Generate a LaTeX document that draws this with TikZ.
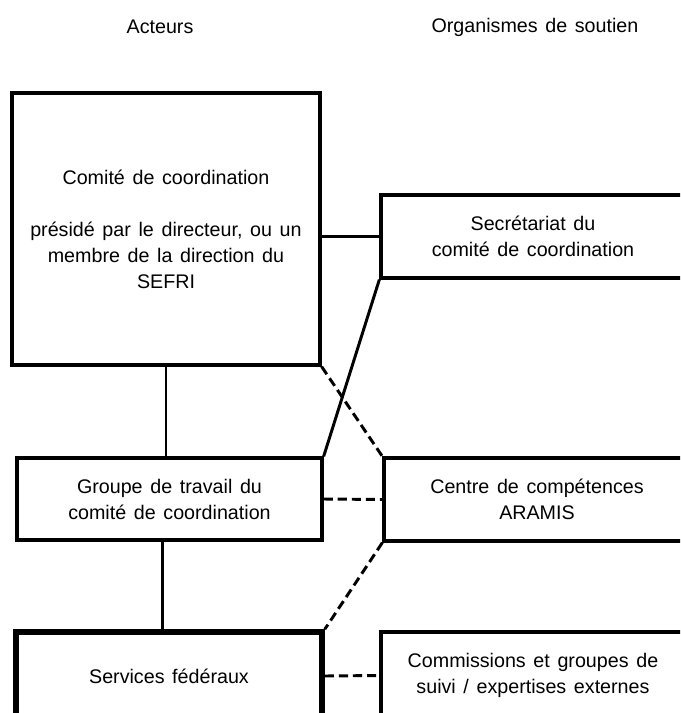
\documentclass[tikz,border=0pt]{standalone}
\usepackage{fontspec}
\setmainfont{Liberation Sans}[WordSpace=1.4]
\begin{document}
\begin{tikzpicture}[x=0.025cm,y=-0.025cm,
		txt/.style={font=\fontsize{14}{18.5}\selectfont},
		box/.style={txt,draw,line width=2.3pt,rectangle,inner sep=0pt,align=center},
		link/.style={line width=2.1pt},
		dlink/.style={line width=2.1pt,dash pattern=on 6.5pt off 3.5pt}]
			\useasboundingbox (0,0) rectangle (680,713);
			\clip (0,0) rectangle (680,713);
			%--
			\node[txt] (acteurs) at (160,27) {Acteurs};
			\node[txt] (soutien) at (535,27) {Organismes de soutien};
			%--
			\node[box,minimum width=7.7cm,minimum height=6.8cm] (comite) at (166,229) {Comité de coordination\\[18.5pt]présidé par le directeur, ou un\\membre de la direction du\\SEFRI};
			\node[box,minimum width=7.625cm,minimum height=2.05cm] (groupe) at (169.5,499) {Groupe de travail du\\comité de coordination};
			\node[box,line width=4pt,minimum width=7.65cm,minimum height=2.2cm] (services) at (169,676) {Services fédéraux};
			%--
			\node[box,minimum width=7.6cm,minimum height=2.075cm] (secr) at (533,236.5) {Secrétariat du\\comité de coordination};
			\node[box,minimum width=7.65cm,minimum height=2.075cm] (centre) at (537,499.5) {Centre de compétences\\ARAMIS};
			\node[box,minimum width=7.6cm,minimum height=2.175cm] (commissions) at (533,675.5) {Commissions et groupes de\\suivi / expertises externes};
			%--
			\draw[link] (comite.east |- secr.west) -- (secr.west);
			\draw[link] (comite.south) -- (comite.south |- groupe.north);
			\draw[link] ([xshift=-5]groupe.south) -- ([xshift=-5]groupe.south |- services.north);
			\draw[link] (secr.south west) -- (groupe.north east);
			%--
			\draw[dlink] (comite.south east) -- (centre.north west);
			\draw[dlink] (groupe.east) -- (centre.west);
			\draw[dlink] (centre.south west) -- (services.north east);
			\draw[dlink] (services.east) -- (commissions.west);
		\end{tikzpicture}
\end{document}
